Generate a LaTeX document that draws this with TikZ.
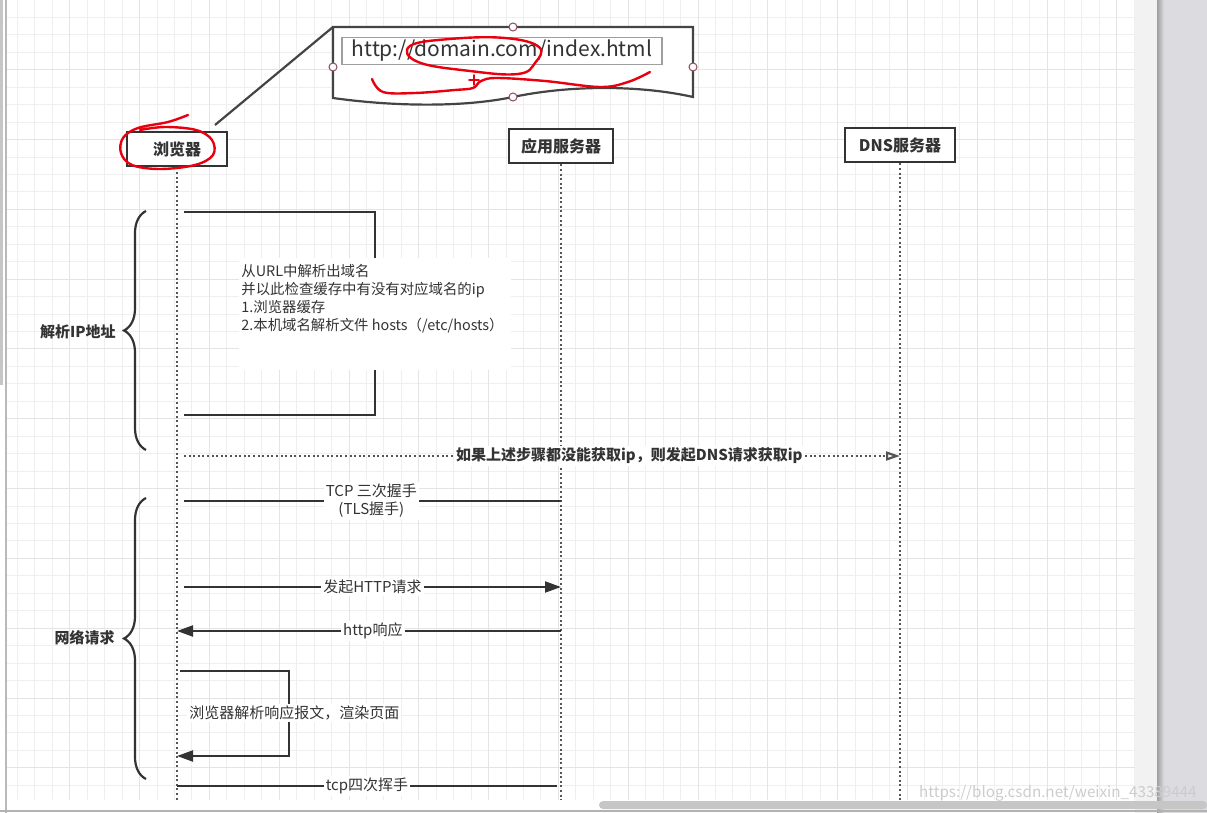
\documentclass[tikz,border=0pt]{standalone}
\usepackage{fontspec}
\setmainfont{Noto Sans CJK SC}
\usetikzlibrary{arrows.meta,decorations.pathreplacing}
\definecolor{gridthin}{HTML}{EFEFEF}
\definecolor{gridmajor}{HTML}{E4E4E4}
\definecolor{inkgray}{HTML}{333333}
\definecolor{docgray}{HTML}{444444}
\definecolor{lifegray}{HTML}{555555}
\definecolor{handlered}{HTML}{8E4A5A}
\definecolor{penred}{HTML}{E8000F}
\definecolor{panelgray}{HTML}{DCDCE0}
\definecolor{stripgray}{HTML}{F2F2F2}
\definecolor{barthumb}{HTML}{C6C6C6}
\tikzset{
  gridline/.style={draw=gridthin, line width=0.5pt},
  gridbold/.style={draw=gridmajor, line width=0.5pt},
  actorbox/.style={draw=inkgray, line width=1.4pt, fill=white, minimum height=17pt,
    inner sep=0pt, font=\bfseries\fontsize{8}{9}\selectfont, text=inkgray},
  lifeline/.style={draw=lifegray, line width=1.1pt, dash pattern=on 1pt off 1.3pt},
  msgline/.style={draw=inkgray, line width=1pt},
  msgarrow/.style={msgline, -{Triangle[length=8pt, width=5.5pt]}},
  dnsarrow/.style={lifeline, -{Triangle[open, length=7pt, width=4.5pt]}},
  msglab/.style={fill=white, inner sep=1pt, text=inkgray, align=center,
    font=\fontsize{7.5}{9}\selectfont},
  dnslab/.style={msglab, font=\bfseries\fontsize{7.5}{9}\selectfont},
  bracelab/.style={text=inkgray, inner sep=1pt, font=\bfseries\fontsize{7.5}{9}\selectfont},
  stepbrace/.style={draw=inkgray, line width=1.1pt, decorate,
    decoration={brace, amplitude=11pt}},
  notebg/.style={fill=white, minimum width=136pt, minimum height=56pt, inner sep=0pt},
  notetext/.style={text=inkgray, align=left, inner xsep=1pt, inner ysep=3pt,
    font=\fontsize{7.2}{9}\selectfont},
  notedoc/.style={draw=docgray, line width=1.1pt, fill=white},
  urlbox/.style={draw=gray!75, line width=0.7pt, fill=white, minimum width=160pt,
    minimum height=13.5pt, inner sep=0pt, text=inkgray, font=\fontsize{10.5}{12}\selectfont},
  handle/.style={draw=handlered, fill=white, line width=0.5pt},
  pen/.style={draw=penred, line width=1.2pt, line cap=round, line join=round},
}
\begin{document}
\begin{tikzpicture}[x=0.5pt, y=-0.5pt]
\useasboundingbox (0,0) rectangle (1207,813);
% editor canvas: grid, panels, scroll bars
\foreach \i in {1,...,65} \draw[gridline] (\i*17.45,0) -- (\i*17.45,800);
\foreach \i in {1,...,45} \draw[gridline] (6,\i*17.45) -- (1135,\i*17.45);
\foreach \i in {1,...,16} \draw[gridbold] (\i*69.8,0) -- (\i*69.8,800);
\foreach \i in {1,...,11} \draw[gridbold] (6,\i*69.8) -- (1135,\i*69.8);
\draw[gray!55, line width=0.6pt] (6,0) -- (6,813);
\fill[gray!45] (0,0) rectangle (3,385);
\fill[stripgray] (1135,0) rectangle (1157,813);
\fill[panelgray] (1157,0) rectangle (1207,813);
\shade[left color=gray!75, right color=panelgray] (1157,0) rectangle (1164,813);
\draw[gray!60, line width=0.8pt] (0,811) -- (1207,811);
\fill[barthumb, rounded corners=2pt] (599,801) rectangle (1207,809);
% the address bar callout
\coordinate (callfoot) at (215,125);
\coordinate (notetl) at (333,27);
\draw[notedoc] (333,98) -- (notetl) -- (693,27) -- (693,97)
  .. controls (640,85) and (570,85) .. (513,97)
  .. controls (460,108) and (390,106) .. (333,98) -- cycle;
\node[urlbox] (url) at (502,51) {http://domain.com/index.html};
\foreach \p in {(513,27),(333,67),(693,67),(513,97)}
  \draw[handle] \p circle (2pt);
\draw[docgray, line width=1.1pt] (callfoot) -- (notetl);
% participants and lifelines
\node[actorbox, minimum width=50pt] (browser) at (177,149) {浏览器};
\node[actorbox, minimum width=52pt] (appsrv) at (561,146) {应用服务器};
\node[actorbox, minimum width=55pt] (dnssrv) at (900,145) {DNS服务器};
\coordinate (floor) at (0,800);
\draw[lifeline] (browser.south) -- (browser.south |- floor);
\draw[lifeline] (appsrv.south) -- (appsrv.south |- floor);
\draw[lifeline] (dnssrv.south) -- (dnssrv.south |- floor);
% stage 1: resolve the ip
\coordinate (p1a) at (184,212); \coordinate (p1b) at (375,212);
\coordinate (p1c) at (375,415); \coordinate (p1d) at (184,415);
\draw[msgline] (p1a) -- (p1b) -- (p1c) -- (p1d);
\node[notebg, anchor=north west] (parsebg) at (239,258) {};
\node[notetext, anchor=north west] (parse) at (parsebg.north west)
  {从URL中解析出域名\\并以此检查缓存中有没有对应域名的ip\\1.浏览器缓存\\2.本机域名解析文件 hosts（/etc/hosts）};
\coordinate (dnsL) at (184,456); \coordinate (dnsR) at (900,456);
\draw[dnsarrow] (dnsL) -- node[dnslab, pos=0.622] (dnsq) {如果上述步骤都没能获取ip，则发起DNS请求获取ip} (dnsR);
\coordinate (br1b) at (146,450); \coordinate (br1t) at (146,211);
\draw[stepbrace] (br1b) -- (br1t);
\node[bracelab, anchor=east] (stage1) at (118,332) {解析IP地址};
% stage 2: the request
\coordinate (tcpL) at (184,501); \coordinate (tcpR) at (561,501);
\draw[msgline] (tcpL) -- node[msglab, pos=0.497] (shake) {TCP 三次握手\\(TLS握手)} (tcpR);
\coordinate (reqL) at (184,587); \coordinate (reqR) at (561,587);
\draw[msgarrow] (reqL) -- node[msglab, pos=0.5] (req) {发起HTTP请求} (reqR);
\coordinate (resR) at (561,631); \coordinate (resL) at (177,631);
\draw[msgarrow] (resR) -- node[msglab, pos=0.49] (res) {http响应} (resL);
\coordinate (p2a) at (180,671); \coordinate (p2b) at (289,671);
\coordinate (p2c) at (289,756); \coordinate (p2d) at (177,756);
\draw[msgarrow] (p2a) -- (p2b) -- (p2c) -- (p2d);
\node[msglab, anchor=west] (render) at (187,713) {浏览器解析响应报文，渲染页面};
\coordinate (finL) at (177,786); \coordinate (finR) at (557,786);
\draw[msgline] (finL) -- node[msglab, pos=0.5] (wave) {tcp四次挥手} (finR);
\coordinate (br2b) at (146,779); \coordinate (br2t) at (146,498);
\draw[stepbrace] (br2b) -- (br2t);
\node[bracelab, anchor=east] (stage2) at (117,638) {网络请求};
% red pen marks
\draw[pen] plot[smooth cycle, tension=0.7] coordinates
  {(539,47) (505,38) (450,39) (410,46) (418,62) (470,71) (518,74) (535,63)};
\draw[pen] plot[smooth, tension=0.6] coordinates
  {(372,79) (383,92) (415,93) (455,90) (473,88) (481,81) (497,78) (545,81) (600,87) (628,82) (650,72)};
\draw[pen, line width=0.8pt] (469,80) -- (479,80) (474,75) -- (474,85);
\draw[pen] plot[smooth, tension=0.6] coordinates
  {(188,115) (168,122) (138,128) (123,138) (121,153) (132,165) (160,169) (195,165) (213,155) (212,140) (196,130) (165,127) (140,130)};
\node[text=gray!40, anchor=east, inner sep=0pt, font=\fontsize{7.6}{9}\selectfont] (wm) at (1197,793) {https://blog.csdn.net/weixin\_43389444};
\end{tikzpicture}
\end{document}
